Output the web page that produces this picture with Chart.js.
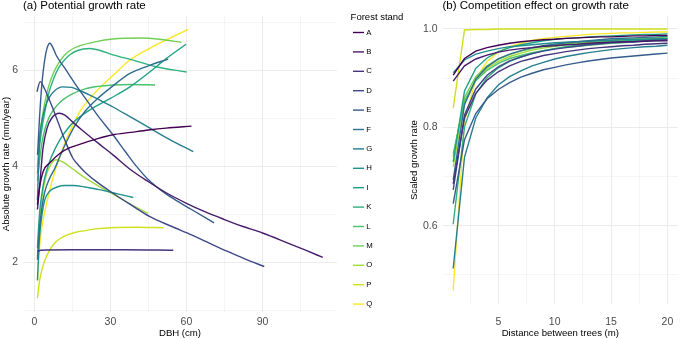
<!DOCTYPE html>
<html><head><meta charset="utf-8">
<script src="https://cdn.jsdelivr.net/npm/chart.js@4.4.1/dist/chart.umd.min.js"></script>
<style>
html,body{margin:0;padding:0;background:#fff;width:685px;height:338px;overflow:hidden}
#ca{position:absolute;left:0;top:0}
#cb{position:absolute;left:340px;top:0}
</style></head><body>
<canvas id="ca" width="340" height="338"></canvas>
<canvas id="cb" width="345" height="338"></canvas>
<script>
const FONT = '"Liberation Sans", Arial, Helvetica, sans-serif';
const stands = ['A','B','C','D','E','F','G','H','I','K','L','M','O','P','Q'];
const standColors = ['#440154','#481B6D','#46337E','#3F4889','#365C8D','#2E6E8E','#277F8E','#21908C','#1FA187','#2DB27D','#4AC16D','#71CF57','#9FDA3A','#CFE11C','#FDE725'];

// Panel (a): [DBH (cm), absolute growth rate (mm/year)]
const growthA = [[1.2,3.2],[2,3.55],[3.5,3.9],[6,4.07],[10,4.27],[14,4.39],[19,4.48],[25,4.58],[31,4.66],[38,4.71],[45,4.76],[52,4.8],[62,4.84]];
const growthB = [[1.2,3.1],[2,3.55],[3.4,4.38],[5,4.8],[7,5.02],[9.9,5.11],[12,5.07],[15,4.93],[19,4.75],[22,4.62],[26,4.45],[31,4.24],[38,3.93],[45,3.68],[52,3.45],[60,3.23],[67,3.06],[75,2.89],[82,2.75],[90,2.61],[100,2.4],[107,2.25],[113.8,2.1]];
const growthC = [[1.2,2.22],[2.5,2.25],[15,2.26],[35,2.26],[54.8,2.25]];
const growthD = [[1,5.56],[2.3,5.77],[4,5.62],[5.5,5.44],[7.3,5.21],[9.5,4.9],[12,4.55],[15.2,4.17],[17.3,4.03],[20,3.88],[25,3.66],[31,3.44],[38,3.2],[45.6,2.95],[54,2.75],[62,2.57],[69,2.4],[76,2.23],[83,2.07],[90.7,1.91]];
const growthE = [[1.25,4.24],[2,5.0],[3,5.75],[4,6.2],[5,6.47],[6.1,6.57],[7.3,6.48],[8.6,6.32],[12,6.05],[16,5.73],[20,5.43],[25,5.06],[31,4.66],[36,4.3],[40.3,4.0],[45,3.72],[50,3.5],[55,3.32],[62,3.1],[70.9,2.82]];
const growthF = [[1.2,2.05],[2,2.7],[3,3.15],[4,3.45],[6,3.75],[8,3.95],[10,4.2],[13,4.55],[16,4.85],[20,5.15],[25,5.42],[30,5.64],[37.7,5.94],[45,6.1],[52.8,6.24]];
const growthG = [[1.2,3.3],[2,4.5],[3,4.95],[4.5,5.28],[6,5.45],[8,5.58],[11,5.66],[14.7,5.65],[18,5.58],[21.9,5.49],[26,5.38],[31,5.24],[38,5.03],[45.6,4.8],[52,4.6],[57,4.46],[62.7,4.31]];
const growthH = [[1.2,1.62],[2,2.5],[3,3.0],[4.1,3.3],[6,3.48],[9,3.57],[12,3.6],[15.3,3.6],[20,3.57],[25,3.52],[31,3.45],[35,3.4],[39,3.35]];
const growthI = [[1.2,2.3],[2,3.0],[3,3.45],[4,3.75],[6,4.1],[8,4.35],[10,4.55],[13,4.78],[16,4.95],[21.9,5.18],[30,5.42],[37.7,5.66],[45,5.95],[52,6.25],[59.8,6.55]];
const growthK = [[1.2,3.85],[2,4.4],[3,4.8],[4,5.1],[5.5,5.5],[7.5,5.82],[9.5,6.05],[11.5,6.2],[14,6.33],[17,6.42],[21.9,6.46],[26,6.42],[31,6.33],[39,6.22],[48,6.08],[60.1,5.97]];
const growthL = [[1.2,3.7],[2,4.1],[3,4.5],[4,4.75],[6,5.05],[9.4,5.3],[12,5.42],[15.2,5.52],[20,5.62],[25,5.67],[31,5.7],[38,5.71],[47.6,5.7]];
const growthM = [[1.2,4.0],[2,4.6],[3,5.0],[4,5.3],[5.5,5.65],[7.5,5.95],[9.5,6.15],[11.5,6.3],[14,6.42],[18,6.52],[23.9,6.6],[31,6.66],[41.6,6.68],[50,6.65],[58.1,6.59]];
const growthO = [[1.2,2.1],[2,2.85],[3,3.35],[4.5,3.78],[6.5,4.04],[8.6,4.14],[11,4.1],[15,3.95],[20,3.76],[25,3.6],[30,3.45],[35,3.3],[40,3.15],[44.9,3.02]];
const growthP = [[1.2,1.25],[2,1.6],[3,1.85],[4,2.02],[6,2.25],[8,2.4],[10,2.49],[13,2.57],[16,2.62],[20,2.66],[25,2.7],[30,2.72],[40,2.73],[51,2.72]];
const growthQ = [[1.2,1.62],[2,2.3],[3,2.75],[4.7,3.2],[7,3.7],[10,4.2],[12.5,4.55],[15.2,4.86],[18,5.15],[21.9,5.42],[26,5.65],[31,5.9],[37.7,6.22],[45,6.45],[52,6.64],[60.7,6.86]];
const potentialGrowth = [growthA,growthB,growthC,growthD,growthE,growthF,growthG,growthH,growthI,growthK,growthL,growthM,growthO,growthP,growthQ];

// Panel (b): scaled growth rate at each distance between trees (m)
const distance = [1,2,3,4,5,6,7,8,9,10,11,12,13,14,15,16,17,18,19,20];
const compA = [.906,.940,.955,.962,.967,.971,.974,.976,.978,.979,.981,.982,.983,.984,.984,.985,.986,.986,.987,.987];
const compB = [.894,.925,.939,.947,.953,.957,.960,.962,.965,.966,.968,.969,.971,.972,.973,.974,.974,.975,.976,.976];
const compC = [.685,.819,.869,.896,.913,.925,.934,.940,.946,.950,.954,.957,.960,.962,.964,.966,.967,.969,.970,.971];
const compD = [.673,.825,.878,.906,.923,.935,.943,.950,.955,.959,.962,.965,.968,.970,.972,.973,.974,.976,.977,.978];
const compE = [.645,.775,.828,.858,.877,.891,.902,.910,.917,.922,.927,.931,.935,.938,.941,.943,.945,.947,.949,.951];
const compF = [.693,.846,.898,.923,.939,.949,.956,.962,.966,.969,.972,.974,.976,.978,.980,.981,.982,.983,.984,.985];
const compG = [.513,.739,.819,.860,.886,.903,.915,.925,.932,.939,.944,.948,.952,.955,.958,.960,.962,.964,.965,.967];
const compH = [.911,.937,.949,.955,.960,.964,.966,.968,.970,.972,.973,.974,.975,.976,.977,.978,.978,.979,.980,.980];
const compI = [.730,.874,.920,.941,.954,.962,.968,.972,.976,.979,.981,.982,.984,.985,.986,.987,.988,.989,.989,.990];
const compK = [.603,.801,.868,.901,.921,.934,.943,.950,.956,.960,.964,.967,.969,.972,.974,.975,.977,.978,.979,.980];
const compL = [.746,.854,.895,.916,.930,.940,.946,.952,.956,.960,.963,.965,.967,.969,.971,.972,.974,.975,.976,.977];
const compM = [.740,.861,.903,.925,.939,.948,.955,.960,.964,.967,.970,.972,.974,.976,.977,.979,.980,.981,.982,.983];
const compO = [.720,.850,.896,.920,.934,.944,.951,.957,.961,.965,.968,.970,.972,.974,.976,.977,.978,.979,.980,.981];
const compP = [.839,.998,.999,.999,1,1,1,1,1,1,1,1,1,1,1,1,1,1,1,1];
const compQ = [.469,.812,.898,.934,.953,.964,.971,.977,.980,.983,.985,.987,.989,.990,.991,.992,.992,.993,.994,.994];
const competition = [compA,compB,compC,compD,compE,compF,compG,compH,compI,compK,compL,compM,compO,compP,compQ];

// Axis ticks (gridlines) and labelled ticks
const dbhTicks = [0,15,30,45,60,75,90,105];
const dbhLabels = [0,30,60,90];
const rateTicks = [1,2,3,4,5,6,7];
const rateLabels = [2,4,6];
const distTicks = [2.5,5,7.5,10,12.5,15,17.5,20];
const distLabels = [5,10,15,20];
const scaledTicks = [0.5,0.6,0.7,0.8,0.9,1.0];
const scaledLabels = [0.6,0.8,1.0];

const TICK = '#4d4d4d', GRID = '#ebebeb';
const TICK_SIZE = 10.5, AXIS_TITLE = 9.6, PLOT_TITLE = 11.5;
const has = (arr, v) => arr.some(a => Math.abs(a - v) < 1e-9);

function axis(opts) {
  return {
    type: 'linear', min: opts.min, max: opts.max,
    afterBuildTicks: s => { s.ticks = opts.ticks.map(v => ({value: v})); },
    afterFit: opts.fit,
    border: {display: false},
    grid: {color: GRID, drawTicks: false, lineWidth: c => (c.tick && has(opts.labels, c.tick.value)) ? 1 : 0.5},
    ticks: {autoSkip: false, maxRotation: 0, padding: opts.pad, color: TICK, font: {family: FONT, size: TICK_SIZE},
      callback: v => has(opts.labels, v) ? opts.fmt(v) : ''},
    title: {display: true, text: opts.title, color: '#000',
      font: {family: FONT, size: AXIS_TITLE, lineHeight: opts.tlh || 1}, padding: opts.tpad}
  };
}

const chartA = new Chart(document.getElementById('ca'), {
  type: 'line',
  data: {datasets: stands.map((s, i) => ({
    label: s, data: potentialGrowth[i].map(p => ({x: p[0], y: p[1]})),
    borderColor: standColors[i], backgroundColor: standColors[i], borderWidth: 1.4,
    pointRadius: 0, cubicInterpolationMode: 'monotone', fill: false}))},
  options: {
    responsive: false, animation: false, devicePixelRatio: 1,
    layout: {padding: {left: 0, right: 3, top: 0, bottom: 0}},
    plugins: {
      legend: {display: false}, tooltip: {enabled: false},
      title: {display: true, text: '(a) Potential growth rate', align: 'start', fullSize: false, color: '#000',
        font: {family: FONT, size: PLOT_TITLE, weight: 'normal', lineHeight: 1}, padding: {top: 0, bottom: 4.5}}
    },
    scales: {
      x: axis({min: -4.5, max: 119.4, ticks: dbhTicks, labels: dbhLabels, fmt: v => String(v), pad: 4.3,
        title: 'DBH (cm)', tpad: {top: 0, bottom: 0.2}, fit: s => { s.height = 26; }}),
      y: axis({min: 0.96, max: 7.14, ticks: rateTicks, labels: rateLabels, fmt: v => String(v), pad: 5,
        title: 'Absolute growth rate (mm/year)', tpad: {top: 1.2, bottom: 0}, fit: s => { s.width = 23; }})
    }
  }
});

const LEGEND_W = 68;   // legend box width of panel (b)
const chartB = new Chart(document.getElementById('cb'), {
  type: 'line',
  data: {datasets: stands.map((s, i) => ({
    label: s, data: distance.map((d, j) => ({x: d, y: competition[i][j]})),
    borderColor: standColors[i], backgroundColor: standColors[i], borderWidth: 1.4,
    pointRadius: 0, tension: 0, fill: false}))},
  options: {
    responsive: false, animation: false, devicePixelRatio: 1,
    layout: {padding: {left: 3, right: 0, top: 0, bottom: 0}},
    plugins: {
      tooltip: {enabled: false},
      legend: {display: true, position: 'left', align: 'start',
        labels: {usePointStyle: true, pointStyle: 'line', boxWidth: 9.1, boxHeight: 7.8, padding: 11.6, color: '#000',
          font: {family: FONT, size: 7.8}},
        title: {display: true, text: 'Forest stand', position: 'center', color: '#000',
          font: {family: FONT, size: 9.5, lineHeight: 0.447}, padding: {top: 12.75, bottom: 0}}},
      title: {display: true, text: '(b) Competition effect on growth rate', align: 'start', fullSize: false, color: '#000',
        font: {family: FONT, size: PLOT_TITLE, weight: 'normal', lineHeight: 1}, padding: {top: 0, bottom: 4.2}}
    },
    scales: {
      x: axis({min: 0.05, max: 20.95, ticks: distTicks, labels: distLabels, fmt: v => String(v), pad: 11.4,
        title: 'Distance between trees (m)', tpad: {top: 0, bottom: 0.2}, fit: s => { s.height = 33.6; }}),
      y: axis({min: 0.44, max: 1.027, ticks: scaledTicks, labels: scaledLabels, fmt: v => v.toFixed(1), pad: 5,
        title: 'Scaled growth rate', tlh: 0.6, tpad: {top: 0, bottom: 0},
        fit: s => { s.width = 102.5 - 3 - (s.chart.legend ? s.chart.legend.width : 0); }})
    }
  }
});
// give the legend box a fixed width so its title is not clipped
const legendB = chartB.legend;
const legendFit = legendB.fit;
legendB.fit = function () { legendFit.call(this); this.width = LEGEND_W; };
chartB.update('none');
// place the y-axis title of panel (b) at its reference position
const yB = chartB.scales.y;
chartB.options.scales.y.title.padding = {top: Math.max(0, 74 - AXIS_TITLE * 0.6 / 2 - yB.left), bottom: 0};
chartB.update('none');
</script>
</body></html>
